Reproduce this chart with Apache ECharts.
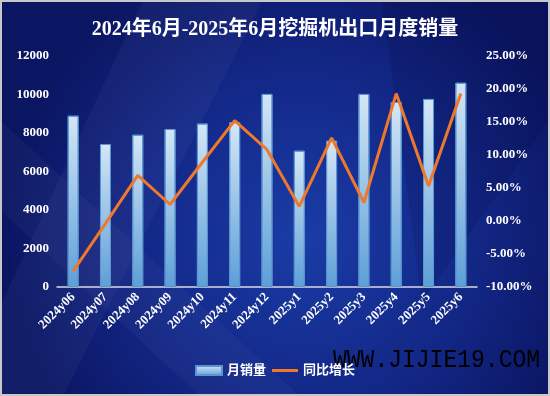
<!DOCTYPE html>
<html><head><meta charset="utf-8">
<script src="https://cdn.jsdelivr.net/npm/echarts@6/dist/echarts.min.js"></script>
<style>html,body{margin:0;padding:0;background:#fff;}#c{width:546px;height:392px;border:2px solid #c8c8c8;}</style>
</head><body><div id="c"></div>
<script>
const categories = ['2024y06','2024y07','2024y08','2024y09','2024y10','2024y11','2024y12','2025y1','2025y2','2025y3','2025y4','2025y5','2025y6'];
const monthlySales = [8900, 7430, 7910, 8210, 8490, 8560, 10030, 7080, 7600, 10030, 9610, 9770, 10610];
const yoyGrowth = [-7.6, -0.4, 6.9, 2.5, 8.9, 15.2, 10.8, 2.2, 12.6, 2.8, 19.3, 5.3, 19.3];
const leftTicks = [0, 2000, 12000];
const rightTicks = [-10, 5, 25];

const chart = echarts.init(document.getElementById('c'));
const serif = '"Liberation Serif","Noto Sans CJK SC",serif';
chart.setOption({
  backgroundColor: {
    type: 'radial', x: 0.55, y: 0.6, r: 0.75,
    colorStops: [{offset: 0, color: '#1a3ca6'}, {offset: 0.55, color: '#132888'}, {offset: 1, color: '#0b1663'}]
  },
  graphic: [
    {type: 'polygon', silent: true, z: -1, shape: {points: [[140,0],[260,0],[60,396],[0,396],[0,300]]}, style: {fill: 'rgba(255,255,255,0.035)'}},
    {type: 'polygon', silent: true, z: -1, shape: {points: [[0,120],[300,396],[200,396],[0,210]]}, style: {fill: 'rgba(255,255,255,0.03)'}},
    {type: 'polygon', silent: true, z: -1, shape: {points: [[380,0],[546,0],[546,120],[420,300]]}, style: {fill: 'rgba(0,0,40,0.12)'}},
    {type: 'text', left: 331, top: 346, silent: true, scaleY: 1.1, style: {text: 'WWW.JIJIE19.COM', fill: '#000', font: '23px "Liberation Mono","DejaVu Sans Mono",monospace'}}
  ],
  title: {
    text: '2024年6月-2025年6月挖掘机出口月度销量', left: 'center', top: 13,
    textStyle: {color: '#fff', fontSize: 20, fontWeight: 'bold', fontFamily: serif}
  },
  legend: {
    bottom: 12, left: 'center', itemGap: 6, itemWidth: 26, itemHeight: 9,
    textStyle: {color: '#fff', fontSize: 13, fontWeight: 'bold', fontFamily: serif},
    data: [
      {name: '月销量', icon: 'rect'},
      {name: '同比增长', icon: 'path://M0,0H26V3H0Z'}
    ]
  },
  grid: {left: 55, right: 71, top: 54, bottom: 107},
  xAxis: {
    type: 'category', data: categories,
    axisLine: {lineStyle: {color: '#d9d9e6', width: 1.5}},
    axisTick: {show: false},
    axisLabel: {rotate: 45, color: '#fff', fontSize: 13, fontWeight: 'bold', fontFamily: serif, margin: 8, interval: 0}
  },
  yAxis: [
    {type: 'value', min: leftTicks[0], max: leftTicks[2], interval: leftTicks[1],
     splitLine: {show: false}, axisLine: {show: false},
     axisLabel: {color: '#fff', fontSize: 13, fontWeight: 'bold', fontFamily: serif, margin: 8,
       formatter: v => String(v)}},
    {type: 'value', min: rightTicks[0], max: rightTicks[2], interval: rightTicks[1],
     splitLine: {show: false}, axisLine: {show: false},
     axisLabel: {color: '#fff', fontSize: 13, fontWeight: 'bold', fontFamily: serif, margin: 9,
       formatter: v => v.toFixed(2) + '%'}}
  ],
  series: [
    {name: '月销量', type: 'bar', data: monthlySales, barWidth: 11,
     itemStyle: {
       color: {type: 'linear', x: 0, y: 0, x2: 0, y2: 1,
         colorStops: [{offset: 0, color: '#d4e6f7'}, {offset: 1, color: '#5d9fd8'}]},
       borderColor: '#5b95cf', borderWidth: 1
     }},
    {name: '同比增长', type: 'line', yAxisIndex: 1, data: yoyGrowth,
     symbol: 'none', lineStyle: {color: '#f0782a', width: 3},
     itemStyle: {color: '#f0782a'}}
  ]
});
</script></body></html>
